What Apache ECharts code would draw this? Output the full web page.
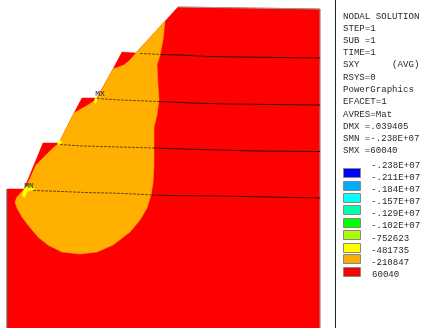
<!DOCTYPE html>
<html><head><meta charset="utf-8">
<style>html,body{margin:0;padding:0;background:#fff}#c{width:431px;height:328px}</style>
<script src="https://cdn.jsdelivr.net/npm/echarts@6/dist/echarts.min.js"></script>
</head><body><div id="c"></div>
<script>
const outline=[[7,189],[24,189],[34,165],[43,143],[59,143],[74,113],[82,98],[97,98],[113,69],[122,52],[136,53],[178,7],[320,9],[320,328],[7,328]];
const orangeZone=[[165,21],[136,53],[130,60],[124,65],[113,69],[97,99],[88,105],[74,113],[59,143],[52,149],[36,165],[26,187],[17,197],[15,202],[17,208],[22,217],[28,225],[38,237],[48,245],[62,252],[80,254],[97,252],[113,245],[130,232],[140,220],[147,208],[151,195],[153,183],[154,165],[154,127],[157,115],[159,100],[158,85],[157,65],[160,55],[163,40]];
const yellowA=[[60,140],[62,142],[60,145],[57,143]];
const yellowB=[[95,98],[100,98],[97,100],[96,103],[94,103]];
const yellowC=[[25,187],[34,186],[34,190],[27,191],[25,197],[22,196]];
const contour1Orange=[[140,53.5],[161,54.5]];
const contour1Red=[[161,54.5],[180,55],[208,56.5],[240,57],[320,58]];
const contour2Orange=[[97,98.5],[120,100],[159,101.5]];
const contour2Red=[[159,101.5],[193,103],[227,104],[270,104.5],[320,105]];
const contour3Orange=[[60,144.5],[82,146],[120,147],[154,148]];
const contour3Red=[[154,148],[167,148.5],[202,149.5],[255,151],[320,151.5]];
const contour4Orange=[[33,190.5],[62,191.5],[85,192.5],[110,193],[135,194],[152,195]];
const contour4Red=[[152,195],[170,195.5],[220,196],[270,197],[320,198]];
const infoLines=['NODAL SOLUTION','STEP=1','SUB =1','TIME=1','SXY      (AVG)','RSYS=0','PowerGraphics','EFACET=1','AVRES=Mat','DMX =.039405','SMN =-.238E+07','SMX =60040'];
const infoY=[17,29,41,53,65,78,90,102,115,127,139,151];
const legendLabels=['-.238E+07','-.211E+07','-.184E+07','-.157E+07','-.129E+07','-.102E+07','-752623','-481735','-210847','60040'];
const legendLabelY=[166,178,190,202,214,226,239,251,263,275];
const legendColors=['#0000ff','#00aaff','#00ffff','#00ffaa','#00ff00','#aaff00','#ffff00','#ffaa00','#ff0000'];
const legendBoxY=[168,181,193,205,218,230,243,254,267];
const nodeMarks=[['MX',100,94],['MN',29,186]];

const poly=(pts,fill)=>({type:'custom',silent:true,data:[0],clip:false,
  renderItem:(p,api)=>({type:'polygon',shape:{points:pts.map(q=>api.coord(q))},style:{fill:fill,stroke:fill,lineWidth:.5}})});
const line=(pts,color,w,dash)=>({type:'line',data:pts,showSymbol:false,silent:true,lineStyle:{color:color,width:w,type:dash||'solid'}});
const texts=(rows,font,align)=>({type:'custom',silent:true,data:rows,clip:false,
  renderItem:(p,api)=>{const r=rows[p.dataIndex],c=api.coord([r[1],r[2]]);
    return {type:'text',x:c[0],y:c[1],style:{text:r[0],fill:'#2a2a2a',font:font,textVerticalAlign:'middle',textAlign:align}};}});
const font='9.1px "Liberation Mono", monospace';
const orangeLine=p=>line(p,'#6e4c00',1,[3,1]);
const redLine=p=>line(p,'rgba(50,0,0,.9)',1);
const chart=echarts.init(document.getElementById('c'),null,{renderer:'canvas'});
chart.setOption({animation:false,backgroundColor:'#fff',
 grid:{left:0,right:0,top:0,bottom:0},
 xAxis:{type:'value',min:0,max:431,show:false},
 yAxis:{type:'value',min:0,max:328,inverse:true,show:false},
 series:[
  poly(outline,'#ff0000'),
  poly(orangeZone,'#ffb000'),
  poly(yellowA,'#ffff00'),poly(yellowB,'#ffff00'),poly(yellowC,'#ffff00'),
  line(outline.slice(11,14),'#999',1),
  line([[7,189],[7,328]],'#666',1),
  orangeLine(contour1Orange),redLine(contour1Red),
  orangeLine(contour2Orange),redLine(contour2Red),
  orangeLine(contour3Orange),redLine(contour3Red),
  orangeLine(contour4Orange),redLine(contour4Red),
  line([[335.5,0],[335.5,328]],'#222',1),
  {type:'custom',silent:true,data:legendColors.map((c,i)=>[343,legendBoxY[i]]),
   renderItem:(p,api)=>{const i=p.dataIndex,c=api.coord([343,legendBoxY[i]]),s=api.size([17,9]);
    return {type:'rect',shape:{x:c[0]+.5,y:c[1]+.5,width:s[0],height:s[1]},style:{fill:legendColors[i],stroke:'#888',lineWidth:1}};}},
  texts(infoLines.map((t,i)=>[t,343,infoY[i]]),font,'left'),
  texts(legendLabels.map((t,i)=>[t,i==9?372:371,legendLabelY[i]]),font,'left'),
  texts(nodeMarks,'8px "Liberation Mono", monospace','center')
 ]});
</script></body></html>
